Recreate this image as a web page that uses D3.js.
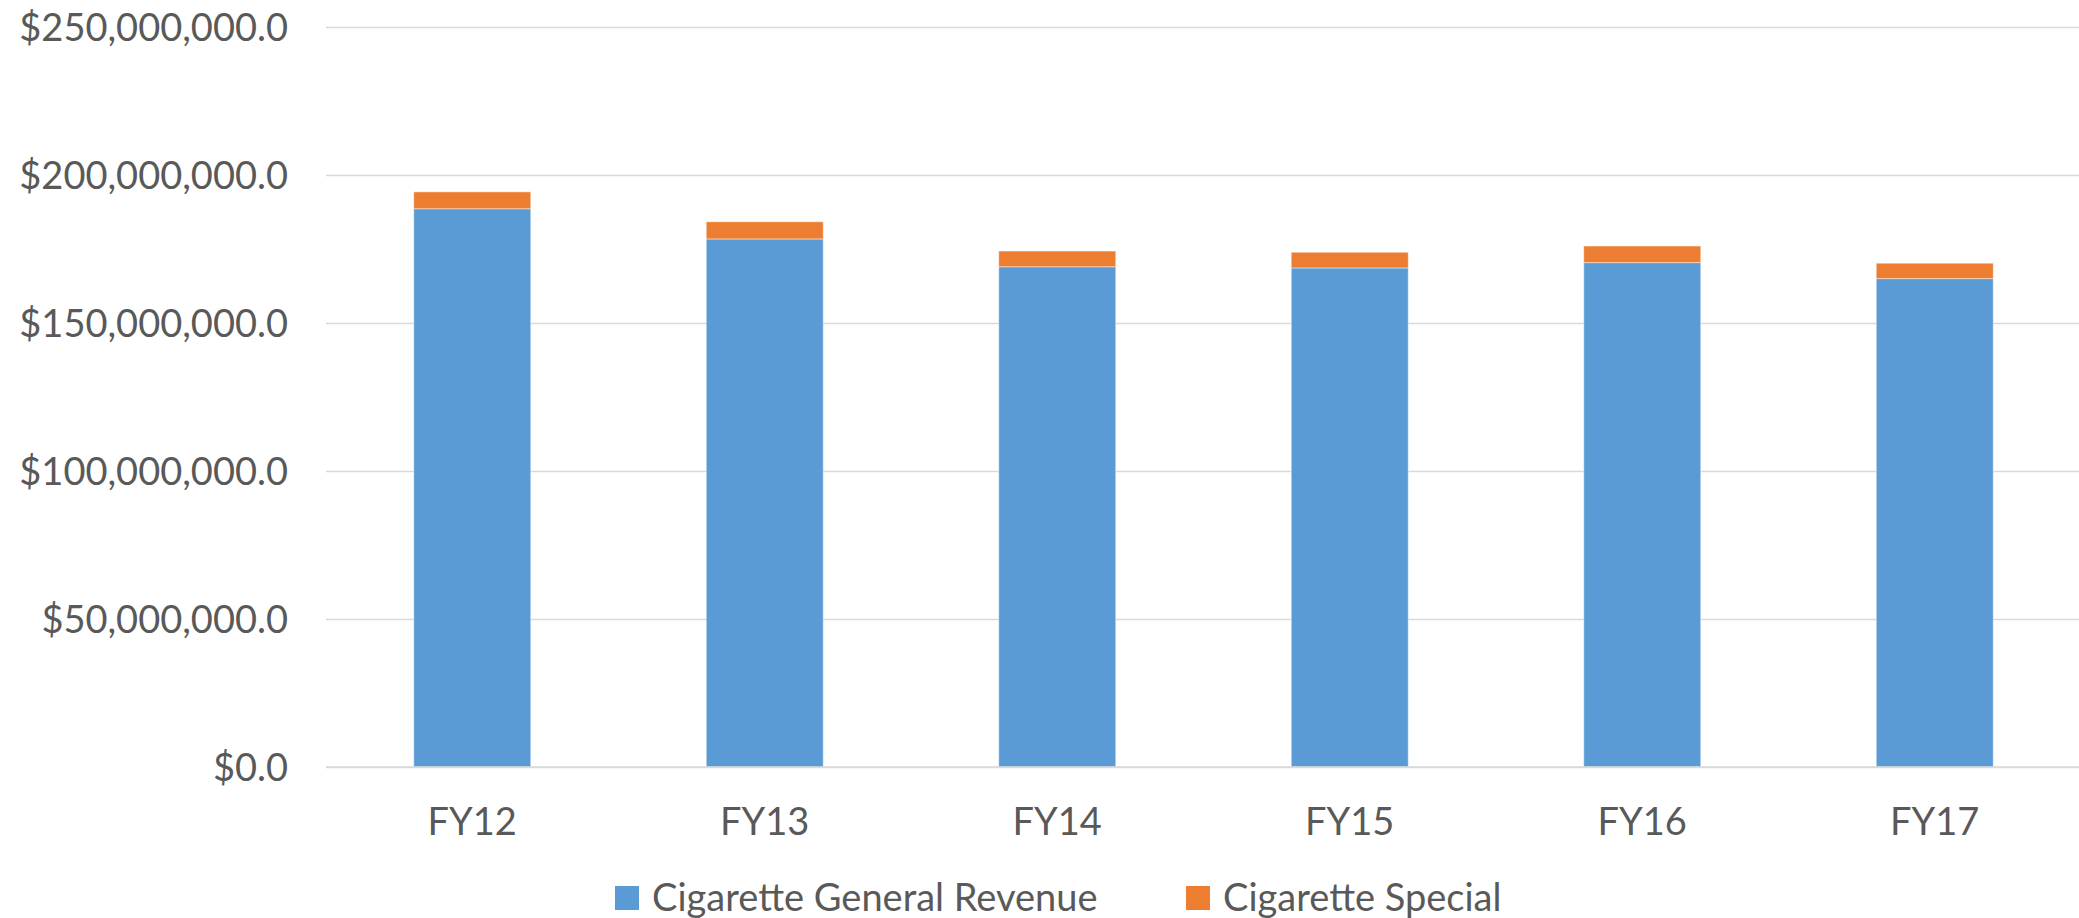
<!DOCTYPE html>
<html>
<head>
<meta charset="utf-8">
<script src="https://cdn.jsdelivr.net/npm/d3@7"></script>
<style>
  html, body { margin: 0; padding: 0; background: #fff; }
  svg text { font-family: Lato, "Open Sans", sans-serif; fill: #595959; }
</style>
</head>
<body>
<svg id="chart" width="2079" height="918"></svg>
<script>
// Fiscal years on the category axis
const categories = ["FY12", "FY13", "FY14", "FY15", "FY16", "FY17"];
// Revenue in dollars per fiscal year
const generalRevenue = [188600000, 178400000, 169000000, 168600000, 170400000, 165000000];
const specialRevenue = [5700000, 5800000, 5300000, 5300000, 5600000, 5200000];
const seriesNames = ["Cigarette General Revenue", "Cigarette Special"];
const seriesColors = ["#5B9BD5", "#ED7D31"];
const yTicks = [0, 50000000, 100000000, 150000000, 200000000, 250000000];

const svg = d3.select("#chart");
const margin = { left: 326, right: -2, top: 27, bottom: 151 };
const width = 2079, height = 918;
const fontSize = "38px";

const x = d3.scaleBand()
  .domain(categories)
  .range([margin.left, width - margin.right])
  .paddingInner(0.6)
  .paddingOuter(0.3);

const y = d3.scaleLinear()
  .domain([0, 250000000])
  .range([height - margin.bottom, margin.top]);

const fmt = v => "$" + d3.format(",.1f")(v);

// Horizontal gridlines and value labels
const yAxis = d3.axisLeft(y)
  .tickValues(yTicks)
  .tickSize(-(width - margin.left))
  .tickPadding(38)
  .tickFormat(fmt);

const gy = svg.append("g")
  .attr("transform", `translate(${margin.left},0)`)
  .call(yAxis);
gy.select(".domain").remove();
gy.selectAll(".tick line").attr("stroke", "#D9D9D9").attr("stroke-width", 1.5);
gy.selectAll(".tick text")
  .style("font-size", fontSize)
  .attr("dy", "0.36em");

// Stacked bars
const rows = categories.map((c, i) => ({ cat: c, general: generalRevenue[i], special: specialRevenue[i] }));
const stack = d3.stack().keys(["general", "special"]);
const layers = stack(rows);

svg.append("g")
  .selectAll("g")
  .data(layers)
  .join("g")
  .attr("fill", (d, i) => seriesColors[i])
  .selectAll("rect")
  .data(d => d)
  .join("rect")
  .attr("x", d => x(d.data.cat))
  .attr("width", x.bandwidth())
  .attr("y", d => y(d[1]))
  .attr("height", d => y(d[0]) - y(d[1]))
  .attr("stroke", "#ffffff")
  .attr("stroke-opacity", 0.45)
  .attr("stroke-width", 1);

// Category labels
const xAxis = d3.axisBottom(x).tickSize(0).tickPadding(0);
const gx = svg.append("g")
  .attr("transform", `translate(0,${y(0)})`)
  .call(xAxis);
gx.select(".domain").remove();
gx.selectAll(".tick text")
  .style("font-size", fontSize)
  .attr("dy", "0")
  .attr("y", 68);

// Baseline drawn above the bars
svg.append("line")
  .attr("x1", margin.left).attr("x2", width)
  .attr("y1", y(0)).attr("y2", y(0))
  .attr("stroke", "#D9D9D9").attr("stroke-width", 1.5);

// Legend
const legendItems = [
  { name: seriesNames[0], color: seriesColors[0], x: 615 },
  { name: seriesNames[1], color: seriesColors[1], x: 1186 }
];
const lg = svg.append("g");
legendItems.forEach(it => {
  lg.append("rect")
    .attr("x", it.x).attr("y", 886)
    .attr("width", 24).attr("height", 24)
    .attr("fill", it.color);
  lg.append("text")
    .attr("x", it.x + 37).attr("y", 911)
    .style("font-size", fontSize)
    .text(it.name);
});
</script>
</body>
</html>
